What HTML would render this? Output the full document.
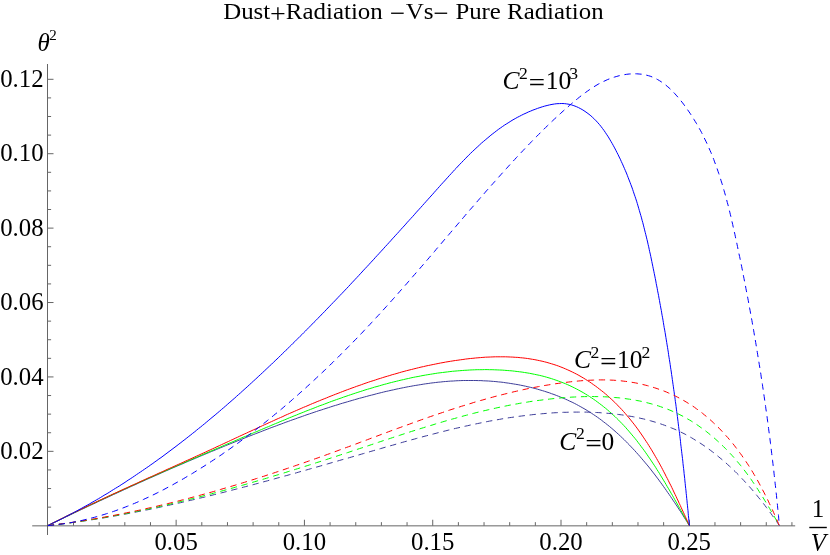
<!DOCTYPE html>
<html><head><meta charset="utf-8"><title>plot</title>
<style>
html,body{margin:0;padding:0;background:#fff;}
svg{display:block;will-change:transform}
text{font-family:"Liberation Serif",serif;fill:#000}
.t{font-size:25px}
.k{font-size:25.6px}
.h{font-size:24px}
.s{font-size:15px}
.l{font-size:25.5px}
.ls{font-size:17.6px}
.i{font-style:italic}
</style></head><body>
<svg width="830" height="555" viewBox="0 0 830 555">
<rect width="830" height="555" fill="#fff"/>
<path d="M32.2,525.85 H795.2 M47.5,535 V64" stroke="#666" stroke-width="1" fill="none"/>
<path d="M73.51,525.75 v-3.6 M99.17,525.75 v-3.6 M124.82,525.75 v-3.6 M150.48,525.75 v-3.6 M176.14,525.75 v-6 M201.80,525.75 v-3.6 M227.46,525.75 v-3.6 M253.11,525.75 v-3.6 M278.77,525.75 v-3.6 M304.43,525.75 v-6 M330.09,525.75 v-3.6 M355.75,525.75 v-3.6 M381.40,525.75 v-3.6 M407.06,525.75 v-3.6 M432.72,525.75 v-6 M458.38,525.75 v-3.6 M484.04,525.75 v-3.6 M509.69,525.75 v-3.6 M535.35,525.75 v-3.6 M561.01,525.75 v-6 M586.67,525.75 v-3.6 M612.33,525.75 v-3.6 M637.98,525.75 v-3.6 M663.64,525.75 v-3.6 M689.30,525.75 v-6 M714.96,525.75 v-3.6 M740.62,525.75 v-3.6 M766.27,525.75 v-3.6 M791.93,525.75 v-3.6 M47.5,507.15 h3.6 M47.5,488.55 h3.6 M47.5,469.94 h3.6 M47.5,451.34 h6 M47.5,432.74 h3.6 M47.5,414.14 h3.6 M47.5,395.54 h3.6 M47.5,376.93 h6 M47.5,358.33 h3.6 M47.5,339.73 h3.6 M47.5,321.13 h3.6 M47.5,302.52 h6 M47.5,283.92 h3.6 M47.5,265.32 h3.6 M47.5,246.72 h3.6 M47.5,228.12 h6 M47.5,209.51 h3.6 M47.5,190.91 h3.6 M47.5,172.31 h3.6 M47.5,153.71 h6 M47.5,135.11 h3.6 M47.5,116.50 h3.6 M47.5,97.90 h3.6 M47.5,79.30 h6" stroke="#666" stroke-width="1" fill="none"/>
<path d="M47.8,525.6 L50.0,524.5 L52.3,523.4 L54.5,522.3 L56.8,521.3 L59.0,520.2 L61.3,519.1 L63.6,518.0 L65.8,516.9 L68.1,515.9 L70.3,514.8 L72.6,513.7 L74.8,512.6 L77.1,511.6 L79.3,510.5 L81.6,509.4 L83.9,508.4 L86.1,507.3 L88.4,506.2 L90.6,505.2 L92.9,504.1 L95.2,503.1 L97.4,502.0 L99.7,500.9 L102.0,499.9 L104.2,498.8 L106.5,497.8 L108.8,496.7 L111.0,495.7 L113.3,494.6 L115.6,493.6 L117.9,492.5 L120.1,491.5 L122.4,490.5 L124.7,489.4 L127.0,488.4 L129.2,487.3 L131.5,486.3 L133.8,485.3 L136.1,484.3 L138.3,483.2 L140.6,482.2 L142.9,481.2 L145.2,480.1 L147.5,479.1 L149.7,478.1 L152.0,477.1 L154.3,476.1 L156.6,475.1 L158.9,474.1 L161.2,473.0 L163.5,472.0 L165.7,471.0 L168.0,470.0 L170.3,469.0 L172.6,468.0 L174.9,467.0 L177.2,466.0 L179.5,465.1 L181.8,464.1 L184.1,463.1 L186.4,462.1 L188.7,461.1 L191.0,460.1 L193.3,459.2 L195.6,458.2 L197.9,457.2 L200.2,456.2 L202.5,455.3 L204.8,454.3 L207.1,453.3 L209.4,452.4 L211.7,451.4 L214.0,450.5 L216.3,449.5 L218.6,448.6 L220.9,447.6 L223.2,446.7 L225.5,445.7 L227.8,444.8 L230.2,443.8 L232.5,442.9 L234.8,442.0 L237.1,441.0 L239.4,440.1 L241.7,439.2 L244.0,438.3 L246.4,437.3 L248.7,436.4 L251.0,435.5 L253.3,434.6 L255.6,433.7 L258.0,432.8 L260.3,431.9 L262.6,431.0 L264.9,430.1 L267.3,429.2 L269.6,428.3 L271.9,427.4 L274.2,426.6 L276.6,425.7 L278.9,424.8 L281.2,424.0 L283.6,423.1 L285.9,422.2 L288.3,421.4 L290.6,420.5 L292.9,419.7 L295.3,418.9 L297.6,418.0 L300.0,417.2 L302.3,416.4 L304.7,415.5 L307.0,414.7 L309.4,413.9 L311.8,413.1 L314.1,412.3 L316.5,411.5 L318.8,410.7 L321.2,410.0 L323.6,409.2 L326.0,408.4 L328.3,407.7 L330.7,406.9 L333.1,406.1 L335.5,405.4 L337.9,404.7 L340.2,403.9 L342.6,403.2 L345.0,402.5 L347.4,401.8 L349.8,401.1 L352.2,400.4 L354.6,399.7 L357.0,399.0 L359.4,398.3 L361.9,397.7 L364.3,397.0 L366.7,396.4 L369.1,395.7 L371.6,395.1 L374.0,394.5 L376.4,393.8 L378.9,393.2 L381.3,392.6 L383.7,392.0 L386.2,391.4 L388.6,390.9 L391.1,390.3 L393.6,389.8 L396.0,389.2 L398.5,388.7 L400.9,388.2 L403.4,387.7 L405.9,387.2 L408.4,386.7 L410.8,386.3 L413.3,385.8 L415.8,385.4 L418.3,385.0 L420.8,384.6 L423.2,384.2 L425.7,383.8 L428.2,383.5 L430.7,383.1 L433.2,382.8 L435.7,382.5 L438.2,382.2 L440.7,382.0 L443.2,381.7 L445.7,381.5 L448.2,381.3 L450.7,381.1 L453.3,381.0 L455.8,380.8 L458.3,380.7 L460.8,380.6 L463.3,380.5 L465.8,380.5 L468.3,380.5 L470.9,380.5 L473.4,380.5 L475.9,380.5 L478.4,380.6 L480.9,380.6 L483.4,380.8 L485.9,380.9 L488.4,381.0 L490.9,381.2 L493.4,381.4 L495.9,381.6 L498.4,381.9 L500.9,382.1 L503.4,382.4 L505.9,382.8 L508.3,383.1 L510.8,383.5 L513.3,383.9 L515.7,384.3 L518.2,384.7 L520.6,385.2 L523.1,385.7 L525.5,386.2 L527.9,386.8 L530.3,387.3 L532.7,387.9 L535.1,388.5 L537.5,389.2 L539.9,389.9 L542.3,390.6 L544.6,391.3 L547.0,392.1 L549.3,392.8 L551.6,393.7 L554.0,394.5 L556.3,395.4 L558.6,396.3 L560.8,397.2 L563.1,398.1 L565.4,399.1 L567.6,400.1 L569.8,401.2 L572.1,402.2 L574.3,403.3 L576.4,404.4 L578.6,405.6 L580.8,406.8 L582.9,408.0 L585.0,409.2 L587.2,410.5 L589.2,411.8 L591.3,413.1 L593.4,414.5 L595.4,415.8 L597.5,417.3 L599.5,418.7 L601.5,420.2 L603.4,421.7 L605.4,423.2 L607.3,424.7 L609.3,426.3 L611.2,427.9 L613.1,429.5 L615.0,431.2 L616.8,432.8 L618.7,434.5 L620.5,436.2 L622.4,438.0 L624.2,439.7 L626.0,441.5 L627.7,443.3 L629.5,445.1 L631.2,446.9 L633.0,448.8 L634.7,450.6 L636.4,452.5 L638.1,454.4 L639.8,456.3 L641.4,458.2 L643.1,460.2 L644.7,462.1 L646.4,464.1 L648.0,466.0 L649.6,468.0 L651.2,470.0 L652.7,472.0 L654.3,474.0 L655.8,476.0 L657.4,478.1 L658.9,480.1 L660.4,482.2 L661.9,484.2 L663.4,486.3 L664.8,488.3 L666.3,490.4 L667.7,492.5 L669.2,494.5 L670.6,496.6 L672.0,498.7 L673.4,500.8 L674.8,502.8 L676.2,504.9 L677.6,507.0 L678.9,509.1 L680.3,511.2 L681.6,513.2 L682.9,515.3 L684.2,517.4 L685.5,519.4 L686.8,521.5 L688.1,523.6 L689.4,525.6" stroke="#3d3d99" stroke-width="1.0" fill="none"/>
<path d="M47.8,525.6 L50.1,524.5 L52.3,523.3 L54.6,522.2 L56.8,521.1 L59.1,520.0 L61.3,518.9 L63.6,517.8 L65.8,516.6 L68.1,515.5 L70.4,514.4 L72.6,513.4 L74.9,512.3 L77.1,511.2 L79.4,510.1 L81.6,509.0 L83.9,507.9 L86.2,506.9 L88.4,505.8 L90.7,504.7 L92.9,503.6 L95.2,502.6 L97.4,501.5 L99.7,500.5 L101.9,499.4 L104.2,498.4 L106.5,497.3 L108.7,496.3 L111.0,495.2 L113.2,494.2 L115.5,493.1 L117.8,492.1 L120.0,491.1 L122.3,490.0 L124.5,489.0 L126.8,488.0 L129.1,487.0 L131.3,485.9 L133.6,484.9 L135.8,483.9 L138.1,482.9 L140.4,481.9 L142.6,480.8 L144.9,479.8 L147.2,478.8 L149.4,477.8 L151.7,476.8 L154.0,475.8 L156.2,474.8 L158.5,473.8 L160.8,472.8 L163.0,471.8 L165.3,470.8 L167.6,469.8 L169.8,468.8 L172.1,467.8 L174.4,466.8 L176.7,465.8 L178.9,464.8 L181.2,463.9 L183.5,462.9 L185.8,461.9 L188.0,460.9 L190.3,459.9 L192.6,458.9 L194.9,457.9 L197.2,457.0 L199.5,456.0 L201.7,455.0 L204.0,454.0 L206.3,453.0 L208.6,452.1 L210.9,451.1 L213.2,450.1 L215.5,449.1 L217.8,448.1 L220.1,447.2 L222.3,446.2 L224.6,445.2 L226.9,444.2 L229.2,443.2 L231.5,442.3 L233.8,441.3 L236.1,440.3 L238.4,439.3 L240.7,438.3 L243.0,437.3 L245.4,436.4 L247.7,435.4 L250.0,434.4 L252.3,433.4 L254.6,432.4 L256.9,431.5 L259.2,430.5 L261.5,429.5 L263.9,428.5 L266.2,427.5 L268.5,426.6 L270.8,425.6 L273.1,424.6 L275.5,423.6 L277.8,422.7 L280.1,421.7 L282.4,420.7 L284.8,419.8 L287.1,418.8 L289.4,417.8 L291.8,416.9 L294.1,415.9 L296.5,415.0 L298.8,414.0 L301.1,413.1 L303.5,412.2 L305.8,411.2 L308.2,410.3 L310.5,409.4 L312.9,408.5 L315.2,407.6 L317.6,406.6 L319.9,405.7 L322.3,404.9 L324.7,404.0 L327.0,403.1 L329.4,402.2 L331.7,401.3 L334.1,400.5 L336.5,399.6 L338.8,398.8 L341.2,398.0 L343.6,397.1 L346.0,396.3 L348.3,395.5 L350.7,394.7 L353.1,393.9 L355.5,393.1 L357.9,392.3 L360.2,391.6 L362.6,390.8 L365.0,390.0 L367.4,389.3 L369.8,388.6 L372.2,387.9 L374.6,387.1 L377.0,386.5 L379.4,385.8 L381.8,385.1 L384.2,384.4 L386.6,383.8 L389.0,383.1 L391.4,382.5 L393.8,381.9 L396.3,381.3 L398.7,380.7 L401.1,380.1 L403.5,379.6 L405.9,379.0 L408.4,378.5 L410.8,377.9 L413.2,377.4 L415.7,376.9 L418.1,376.5 L420.5,376.0 L423.0,375.5 L425.4,375.1 L427.8,374.7 L430.3,374.3 L432.7,373.9 L435.2,373.5 L437.6,373.1 L440.1,372.8 L442.5,372.5 L445.0,372.2 L447.5,371.9 L449.9,371.6 L452.4,371.3 L454.9,371.1 L457.3,370.9 L459.8,370.7 L462.3,370.5 L464.8,370.3 L467.2,370.2 L469.7,370.0 L472.2,369.9 L474.7,369.8 L477.2,369.7 L479.7,369.7 L482.2,369.7 L484.6,369.6 L487.1,369.6 L489.6,369.7 L492.1,369.7 L494.7,369.8 L497.2,369.9 L499.7,370.0 L502.2,370.1 L504.7,370.3 L507.2,370.5 L509.7,370.7 L512.2,370.9 L514.7,371.2 L517.2,371.5 L519.7,371.8 L522.1,372.1 L524.6,372.5 L527.1,372.9 L529.6,373.3 L532.0,373.8 L534.5,374.3 L536.9,374.8 L539.3,375.3 L541.8,375.9 L544.2,376.5 L546.6,377.2 L549.0,377.9 L551.4,378.6 L553.7,379.4 L556.1,380.2 L558.4,381.0 L560.8,381.9 L563.1,382.8 L565.4,383.7 L567.7,384.7 L569.9,385.7 L572.2,386.8 L574.4,387.9 L576.6,389.0 L578.8,390.2 L581.0,391.4 L583.2,392.6 L585.3,393.9 L587.4,395.2 L589.5,396.5 L591.6,397.9 L593.7,399.3 L595.7,400.7 L597.7,402.2 L599.7,403.7 L601.7,405.2 L603.7,406.8 L605.6,408.3 L607.5,409.9 L609.4,411.6 L611.3,413.2 L613.1,414.9 L615.0,416.6 L616.8,418.4 L618.6,420.1 L620.3,421.9 L622.1,423.7 L623.8,425.5 L625.5,427.3 L627.1,429.2 L628.8,431.1 L630.4,433.0 L632.0,434.9 L633.6,436.8 L635.2,438.7 L636.8,440.7 L638.3,442.7 L639.8,444.7 L641.3,446.7 L642.8,448.7 L644.3,450.7 L645.8,452.8 L647.2,454.8 L648.6,456.9 L650.0,458.9 L651.4,461.0 L652.8,463.1 L654.2,465.2 L655.6,467.3 L656.9,469.5 L658.3,471.6 L659.6,473.7 L660.9,475.9 L662.2,478.0 L663.5,480.2 L664.8,482.3 L666.1,484.5 L667.3,486.7 L668.6,488.8 L669.9,491.0 L671.1,493.2 L672.4,495.3 L673.6,497.5 L674.8,499.7 L676.1,501.9 L677.3,504.0 L678.5,506.2 L679.7,508.4 L680.9,510.5 L682.2,512.7 L683.4,514.9 L684.6,517.0 L685.8,519.2 L687.0,521.3 L688.2,523.5 L689.4,525.6" stroke="#00ff00" stroke-width="1.0" fill="none"/>
<path d="M47.8,525.6 L50.0,524.5 L52.3,523.3 L54.5,522.2 L56.7,521.1 L59.0,520.0 L61.2,518.8 L63.5,517.7 L65.7,516.6 L67.9,515.5 L70.2,514.4 L72.4,513.3 L74.7,512.2 L76.9,511.2 L79.2,510.1 L81.4,509.0 L83.7,507.9 L85.9,506.8 L88.1,505.8 L90.4,504.7 L92.6,503.6 L94.9,502.6 L97.2,501.5 L99.4,500.4 L101.7,499.4 L103.9,498.3 L106.2,497.3 L108.4,496.2 L110.7,495.2 L112.9,494.1 L115.2,493.1 L117.4,492.1 L119.7,491.0 L122.0,490.0 L124.2,488.9 L126.5,487.9 L128.7,486.9 L131.0,485.8 L133.3,484.8 L135.5,483.8 L137.8,482.8 L140.0,481.7 L142.3,480.7 L144.6,479.7 L146.8,478.6 L149.1,477.6 L151.4,476.6 L153.6,475.6 L155.9,474.6 L158.1,473.5 L160.4,472.5 L162.7,471.5 L164.9,470.5 L167.2,469.4 L169.5,468.4 L171.7,467.4 L174.0,466.4 L176.3,465.3 L178.5,464.3 L180.8,463.3 L183.1,462.3 L185.3,461.2 L187.6,460.2 L189.9,459.2 L192.1,458.2 L194.4,457.1 L196.6,456.1 L198.9,455.1 L201.2,454.0 L203.4,453.0 L205.7,452.0 L208.0,450.9 L210.2,449.9 L212.5,448.8 L214.8,447.8 L217.0,446.7 L219.3,445.7 L221.6,444.6 L223.8,443.6 L226.1,442.5 L228.4,441.5 L230.6,440.4 L232.9,439.4 L235.1,438.3 L237.4,437.3 L239.7,436.2 L241.9,435.2 L244.2,434.1 L246.5,433.1 L248.7,432.0 L251.0,431.0 L253.3,429.9 L255.6,428.9 L257.8,427.8 L260.1,426.8 L262.4,425.7 L264.6,424.7 L266.9,423.7 L269.2,422.6 L271.5,421.6 L273.7,420.6 L276.0,419.5 L278.3,418.5 L280.6,417.5 L282.9,416.5 L285.1,415.4 L287.4,414.4 L289.7,413.4 L292.0,412.4 L294.3,411.4 L296.6,410.4 L298.9,409.4 L301.2,408.4 L303.4,407.4 L305.7,406.5 L308.0,405.5 L310.3,404.5 L312.6,403.5 L314.9,402.6 L317.2,401.6 L319.5,400.7 L321.9,399.7 L324.2,398.8 L326.5,397.9 L328.8,396.9 L331.1,396.0 L333.4,395.1 L335.7,394.2 L338.1,393.3 L340.4,392.4 L342.7,391.5 L345.0,390.6 L347.4,389.7 L349.7,388.9 L352.0,388.0 L354.4,387.2 L356.7,386.3 L359.1,385.5 L361.4,384.7 L363.8,383.8 L366.1,383.0 L368.5,382.2 L370.8,381.4 L373.2,380.7 L375.6,379.9 L377.9,379.1 L380.3,378.4 L382.7,377.6 L385.0,376.9 L387.4,376.2 L389.8,375.5 L392.2,374.7 L394.6,374.1 L397.0,373.4 L399.3,372.7 L401.7,372.0 L404.1,371.4 L406.5,370.7 L409.0,370.1 L411.4,369.5 L413.8,368.9 L416.2,368.3 L418.6,367.7 L421.0,367.1 L423.5,366.6 L425.9,366.0 L428.3,365.5 L430.8,365.0 L433.2,364.5 L435.7,364.0 L438.1,363.5 L440.6,363.0 L443.0,362.6 L445.5,362.1 L448.0,361.7 L450.4,361.3 L452.9,360.9 L455.4,360.5 L457.9,360.2 L460.4,359.8 L462.9,359.5 L465.4,359.1 L467.9,358.8 L470.4,358.5 L472.9,358.3 L475.4,358.0 L477.9,357.8 L480.4,357.6 L482.9,357.4 L485.4,357.2 L487.9,357.1 L490.4,357.0 L492.9,356.9 L495.4,356.8 L497.9,356.8 L500.4,356.8 L502.9,356.8 L505.4,356.8 L507.9,356.9 L510.4,357.0 L512.8,357.1 L515.3,357.3 L517.8,357.4 L520.3,357.7 L522.7,357.9 L525.2,358.2 L527.6,358.5 L530.0,358.9 L532.5,359.3 L534.9,359.7 L537.3,360.2 L539.7,360.7 L542.1,361.2 L544.5,361.8 L546.9,362.4 L549.2,363.1 L551.6,363.8 L553.9,364.5 L556.3,365.3 L558.6,366.1 L560.9,367.0 L563.2,367.9 L565.5,368.9 L567.8,369.9 L570.0,370.9 L572.3,372.0 L574.5,373.1 L576.7,374.2 L578.9,375.4 L581.1,376.7 L583.2,377.9 L585.3,379.2 L587.5,380.6 L589.6,381.9 L591.6,383.3 L593.7,384.8 L595.7,386.2 L597.7,387.7 L599.7,389.3 L601.7,390.8 L603.7,392.4 L605.6,394.0 L607.5,395.6 L609.3,397.3 L611.2,399.0 L613.0,400.7 L614.8,402.4 L616.6,404.2 L618.3,406.0 L620.1,407.8 L621.8,409.6 L623.4,411.4 L625.1,413.3 L626.7,415.2 L628.3,417.1 L629.9,419.0 L631.5,421.0 L633.0,422.9 L634.6,424.9 L636.1,426.9 L637.6,428.9 L639.0,430.9 L640.5,433.0 L641.9,435.0 L643.3,437.1 L644.7,439.2 L646.1,441.3 L647.5,443.4 L648.8,445.5 L650.2,447.7 L651.5,449.8 L652.8,452.0 L654.1,454.2 L655.3,456.3 L656.6,458.5 L657.8,460.7 L659.1,462.9 L660.3,465.1 L661.5,467.3 L662.7,469.6 L663.8,471.8 L665.0,474.0 L666.1,476.3 L667.3,478.5 L668.4,480.7 L669.5,483.0 L670.7,485.2 L671.8,487.5 L672.9,489.8 L673.9,492.0 L675.0,494.3 L676.1,496.5 L677.1,498.8 L678.2,501.0 L679.2,503.3 L680.3,505.5 L681.3,507.8 L682.3,510.0 L683.4,512.3 L684.4,514.5 L685.4,516.7 L686.4,519.0 L687.4,521.2 L688.4,523.4 L689.4,525.6" stroke="#ff0000" stroke-width="1.0" fill="none"/>
<path d="M47.8,525.6 L50.1,524.5 L52.3,523.4 L54.6,522.3 L56.8,521.2 L59.0,520.1 L61.3,519.0 L63.5,517.9 L65.7,516.7 L67.9,515.6 L70.2,514.4 L72.4,513.3 L74.6,512.1 L76.8,510.9 L79.0,509.7 L81.2,508.5 L83.3,507.3 L85.5,506.1 L87.7,504.9 L89.9,503.7 L92.0,502.4 L94.2,501.2 L96.4,499.9 L98.5,498.7 L100.7,497.4 L102.8,496.1 L104.9,494.8 L107.1,493.6 L109.2,492.3 L111.3,490.9 L113.4,489.6 L115.5,488.3 L117.7,487.0 L119.8,485.7 L121.9,484.3 L124.0,483.0 L126.1,481.6 L128.1,480.2 L130.2,478.9 L132.3,477.5 L134.4,476.1 L136.4,474.7 L138.5,473.3 L140.6,471.9 L142.6,470.5 L144.7,469.1 L146.7,467.7 L148.8,466.3 L150.8,464.8 L152.9,463.4 L154.9,461.9 L156.9,460.5 L158.9,459.0 L161.0,457.6 L163.0,456.1 L165.0,454.6 L167.0,453.1 L169.0,451.6 L171.0,450.1 L173.0,448.6 L175.0,447.1 L177.0,445.6 L178.9,444.1 L180.9,442.6 L182.9,441.0 L184.9,439.5 L186.8,438.0 L188.8,436.4 L190.8,434.9 L192.7,433.3 L194.7,431.8 L196.6,430.2 L198.5,428.6 L200.5,427.1 L202.4,425.5 L204.4,423.9 L206.3,422.3 L208.2,420.7 L210.1,419.1 L212.0,417.5 L214.0,415.9 L215.9,414.3 L217.8,412.7 L219.7,411.1 L221.6,409.4 L223.5,407.8 L225.4,406.2 L227.3,404.5 L229.1,402.9 L231.0,401.3 L232.9,399.6 L234.8,398.0 L236.6,396.3 L238.5,394.6 L240.4,393.0 L242.2,391.3 L244.1,389.6 L245.9,388.0 L247.8,386.3 L249.6,384.6 L251.5,382.9 L253.3,381.2 L255.2,379.5 L257.0,377.8 L258.8,376.1 L260.7,374.4 L262.5,372.7 L264.3,371.0 L266.1,369.3 L267.9,367.6 L269.7,365.9 L271.6,364.2 L273.4,362.4 L275.2,360.7 L277.0,359.0 L278.8,357.3 L280.6,355.5 L282.3,353.8 L284.1,352.1 L285.9,350.3 L287.7,348.6 L289.5,346.8 L291.3,345.1 L293.0,343.3 L294.8,341.6 L296.6,339.8 L298.3,338.1 L300.1,336.3 L301.9,334.6 L303.6,332.8 L305.4,331.1 L307.1,329.3 L308.9,327.5 L310.6,325.8 L312.3,324.0 L314.1,322.2 L315.8,320.5 L317.6,318.7 L319.3,316.9 L321.0,315.1 L322.8,313.4 L324.5,311.6 L326.2,309.8 L327.9,308.0 L329.7,306.2 L331.4,304.4 L333.1,302.6 L334.8,300.9 L336.5,299.1 L338.2,297.3 L339.9,295.5 L341.7,293.7 L343.4,291.9 L345.1,290.1 L346.8,288.3 L348.5,286.5 L350.2,284.7 L351.9,282.8 L353.6,281.0 L355.3,279.2 L357.0,277.4 L358.7,275.6 L360.3,273.8 L362.0,272.0 L363.7,270.1 L365.4,268.3 L367.1,266.5 L368.8,264.7 L370.5,262.8 L372.2,261.0 L373.9,259.2 L375.5,257.3 L377.2,255.5 L378.9,253.7 L380.6,251.8 L382.3,250.0 L383.9,248.2 L385.6,246.3 L387.3,244.5 L389.0,242.6 L390.7,240.8 L392.3,238.9 L394.0,237.1 L395.7,235.2 L397.4,233.4 L399.1,231.5 L400.7,229.7 L402.4,227.8 L404.1,226.0 L405.8,224.1 L407.4,222.2 L409.1,220.4 L410.8,218.5 L412.5,216.7 L414.2,214.8 L415.8,212.9 L417.5,211.0 L419.2,209.2 L420.9,207.3 L422.6,205.4 L424.2,203.6 L425.9,201.7 L427.6,199.8 L429.3,197.9 L431.0,196.0 L432.7,194.2 L434.3,192.3 L436.0,190.4 L437.7,188.5 L439.4,186.6 L441.1,184.7 L442.8,182.8 L444.5,181.0 L446.2,179.1 L447.9,177.2 L449.6,175.3 L451.3,173.5 L453.0,171.6 L454.7,169.7 L456.5,167.9 L458.2,166.0 L459.9,164.2 L461.7,162.4 L463.4,160.6 L465.2,158.8 L466.9,157.0 L468.7,155.2 L470.5,153.4 L472.3,151.7 L474.1,150.0 L475.9,148.3 L477.8,146.6 L479.6,144.9 L481.4,143.2 L483.3,141.6 L485.2,140.0 L487.1,138.4 L489.0,136.8 L490.9,135.2 L492.8,133.7 L494.8,132.2 L496.7,130.7 L498.7,129.2 L500.7,127.8 L502.7,126.4 L504.7,125.0 L506.8,123.7 L508.9,122.4 L510.9,121.1 L513.0,119.8 L515.2,118.6 L517.3,117.4 L519.5,116.3 L521.6,115.2 L523.8,114.1 L526.1,113.1 L528.3,112.0 L530.6,111.1 L532.9,110.1 L535.2,109.3 L537.5,108.4 L539.9,107.6 L542.3,106.8 L544.7,106.1 L547.1,105.5 L549.5,104.9 L552.0,104.4 L554.4,104.0 L556.9,103.7 L559.4,103.6 L561.8,103.5 L564.3,103.6 L566.7,103.9 L569.1,104.3 L571.5,104.9 L573.9,105.7 L576.3,106.6 L578.5,107.6 L580.8,108.8 L582.9,110.0 L585.0,111.4 L587.0,112.8 L589.0,114.3 L590.9,115.8 L592.7,117.5 L594.5,119.2 L596.2,120.9 L597.9,122.8 L599.5,124.6 L601.1,126.6 L602.6,128.6 L604.1,130.6 L605.5,132.7 L606.9,134.8 L608.3,136.9 L609.6,139.1 L610.9,141.3 L612.2,143.5 L613.4,145.7 L614.6,147.9 L615.8,150.2 L616.9,152.4 L618.1,154.7 L619.2,157.0 L620.3,159.2 L621.3,161.5 L622.4,163.8 L623.4,166.1 L624.4,168.4 L625.4,170.7 L626.4,173.0 L627.3,175.3 L628.2,177.7 L629.1,180.0 L630.0,182.3 L630.9,184.7 L631.8,187.0 L632.6,189.3 L633.4,191.7 L634.2,194.1 L635.0,196.4 L635.8,198.8 L636.6,201.2 L637.3,203.5 L638.0,205.9 L638.7,208.3 L639.4,210.7 L640.1,213.1 L640.8,215.5 L641.5,217.9 L642.1,220.3 L642.8,222.7 L643.4,225.1 L644.0,227.5 L644.6,229.9 L645.2,232.3 L645.8,234.7 L646.4,237.1 L647.0,239.6 L647.6,242.0 L648.1,244.4 L648.7,246.8 L649.2,249.3 L649.7,251.7 L650.3,254.1 L650.8,256.6 L651.3,259.0 L651.8,261.5 L652.3,263.9 L652.8,266.3 L653.3,268.8 L653.8,271.2 L654.3,273.7 L654.8,276.1 L655.3,278.6 L655.8,281.0 L656.2,283.5 L656.7,285.9 L657.2,288.3 L657.6,290.8 L658.1,293.2 L658.6,295.7 L659.0,298.2 L659.5,300.6 L659.9,303.1 L660.4,305.5 L660.8,308.0 L661.3,310.4 L661.7,312.9 L662.1,315.3 L662.6,317.8 L663.0,320.2 L663.4,322.7 L663.8,325.2 L664.2,327.6 L664.7,330.1 L665.1,332.5 L665.5,335.0 L665.9,337.5 L666.3,339.9 L666.7,342.4 L667.1,344.9 L667.5,347.3 L667.9,349.8 L668.3,352.2 L668.6,354.7 L669.0,357.2 L669.4,359.6 L669.8,362.1 L670.2,364.6 L670.5,367.1 L670.9,369.5 L671.3,372.0 L671.6,374.5 L672.0,376.9 L672.3,379.4 L672.7,381.9 L673.0,384.3 L673.4,386.8 L673.7,389.3 L674.1,391.8 L674.4,394.2 L674.8,396.7 L675.1,399.2 L675.4,401.7 L675.8,404.1 L676.1,406.6 L676.4,409.1 L676.7,411.5 L677.1,414.0 L677.4,416.5 L677.7,419.0 L678.0,421.5 L678.3,423.9 L678.6,426.4 L678.9,428.9 L679.3,431.4 L679.6,433.8 L679.9,436.3 L680.2,438.8 L680.5,441.3 L680.7,443.8 L681.0,446.2 L681.3,448.7 L681.6,451.2 L681.9,453.7 L682.2,456.1 L682.5,458.6 L682.8,461.1 L683.0,463.6 L683.3,466.1 L683.6,468.5 L683.9,471.0 L684.1,473.5 L684.4,476.0 L684.7,478.5 L684.9,480.9 L685.2,483.4 L685.4,485.9 L685.7,488.4 L686.0,490.9 L686.2,493.4 L686.5,495.8 L686.7,498.3 L687.0,500.8 L687.2,503.3 L687.5,505.8 L687.7,508.2 L688.0,510.7 L688.2,513.2 L688.4,515.7 L688.7,518.2 L688.9,520.6 L689.2,523.1 L689.4,525.6" stroke="#0000ff" stroke-width="1.0" fill="none"/>
<path d="M47.8,525.6 L50.3,525.3 L52.8,525.0 L55.3,524.7 L57.8,524.5 L60.2,524.1 L62.7,523.8 L65.2,523.5 L67.7,523.2 L70.2,522.9 L72.7,522.5 L75.1,522.2 L77.6,521.9 L80.1,521.5 L82.6,521.1 L85.0,520.8 L87.5,520.4 L90.0,520.0 L92.4,519.7 L94.9,519.3 L97.4,518.9 L99.8,518.5 L102.3,518.1 L104.8,517.7 L107.2,517.3 L109.7,516.8 L112.1,516.4 L114.6,516.0 L117.1,515.6 L119.5,515.1 L122.0,514.7 L124.4,514.2 L126.9,513.8 L129.3,513.3 L131.8,512.9 L134.2,512.4 L136.7,511.9 L139.1,511.4 L141.5,511.0 L144.0,510.5 L146.4,510.0 L148.9,509.5 L151.3,509.0 L153.7,508.5 L156.2,508.0 L158.6,507.5 L161.1,506.9 L163.5,506.4 L165.9,505.9 L168.4,505.4 L170.8,504.8 L173.2,504.3 L175.7,503.8 L178.1,503.2 L180.5,502.7 L182.9,502.1 L185.4,501.6 L187.8,501.0 L190.2,500.4 L192.6,499.9 L195.1,499.3 L197.5,498.7 L199.9,498.1 L202.3,497.6 L204.8,497.0 L207.2,496.4 L209.6,495.8 L212.0,495.2 L214.4,494.6 L216.9,494.0 L219.3,493.4 L221.7,492.8 L224.1,492.2 L226.5,491.6 L228.9,491.0 L231.3,490.3 L233.8,489.7 L236.2,489.1 L238.6,488.5 L241.0,487.8 L243.4,487.2 L245.8,486.6 L248.2,485.9 L250.6,485.3 L253.1,484.7 L255.5,484.0 L257.9,483.4 L260.3,482.7 L262.7,482.1 L265.1,481.4 L267.5,480.8 L269.9,480.1 L272.3,479.5 L274.7,478.8 L277.1,478.1 L279.5,477.5 L281.9,476.8 L284.4,476.1 L286.8,475.5 L289.2,474.8 L291.6,474.1 L294.0,473.5 L296.4,472.8 L298.8,472.1 L301.2,471.4 L303.6,470.8 L306.0,470.1 L308.4,469.4 L310.8,468.7 L313.2,468.0 L315.6,467.3 L318.0,466.7 L320.4,466.0 L322.8,465.3 L325.2,464.6 L327.6,463.9 L330.0,463.2 L332.4,462.5 L334.8,461.8 L337.3,461.1 L339.7,460.4 L342.1,459.7 L344.5,459.1 L346.9,458.4 L349.3,457.7 L351.7,457.0 L354.1,456.3 L356.5,455.6 L358.9,454.9 L361.3,454.2 L363.7,453.5 L366.1,452.8 L368.5,452.1 L370.9,451.4 L373.3,450.7 L375.7,450.0 L378.2,449.3 L380.6,448.6 L383.0,447.9 L385.4,447.2 L387.8,446.5 L390.2,445.8 L392.6,445.2 L395.0,444.5 L397.4,443.8 L399.8,443.1 L402.3,442.4 L404.7,441.7 L407.1,441.1 L409.5,440.4 L411.9,439.7 L414.3,439.1 L416.7,438.4 L419.2,437.7 L421.6,437.1 L424.0,436.4 L426.4,435.8 L428.8,435.2 L431.3,434.5 L433.7,433.9 L436.1,433.3 L438.5,432.6 L440.9,432.0 L443.4,431.4 L445.8,430.8 L448.2,430.2 L450.6,429.6 L453.1,429.0 L455.5,428.4 L457.9,427.9 L460.4,427.3 L462.8,426.7 L465.2,426.2 L467.7,425.7 L470.1,425.1 L472.5,424.6 L475.0,424.1 L477.4,423.6 L479.9,423.1 L482.3,422.6 L484.7,422.1 L487.2,421.6 L489.6,421.1 L492.1,420.7 L494.5,420.2 L497.0,419.8 L499.4,419.4 L501.9,418.9 L504.3,418.5 L506.8,418.1 L509.2,417.7 L511.7,417.4 L514.2,417.0 L516.6,416.6 L519.1,416.3 L521.6,416.0 L524.0,415.7 L526.5,415.4 L529.0,415.1 L531.4,414.8 L533.9,414.5 L536.4,414.3 L538.9,414.0 L541.3,413.8 L543.8,413.6 L546.3,413.4 L548.8,413.2 L551.3,413.0 L553.7,412.8 L556.2,412.7 L558.7,412.6 L561.2,412.4 L563.7,412.3 L566.2,412.3 L568.7,412.2 L571.2,412.1 L573.7,412.1 L576.2,412.1 L578.7,412.1 L581.2,412.1 L583.7,412.1 L586.3,412.1 L588.8,412.2 L591.3,412.3 L593.8,412.4 L596.3,412.5 L598.8,412.6 L601.3,412.8 L603.8,413.0 L606.3,413.2 L608.8,413.4 L611.3,413.6 L613.8,413.9 L616.3,414.2 L618.8,414.5 L621.3,414.8 L623.8,415.2 L626.2,415.5 L628.7,416.0 L631.2,416.4 L633.6,416.8 L636.1,417.3 L638.5,417.8 L640.9,418.4 L643.4,418.9 L645.8,419.5 L648.2,420.1 L650.6,420.8 L653.0,421.5 L655.3,422.2 L657.7,422.9 L660.1,423.7 L662.4,424.5 L664.7,425.3 L667.0,426.2 L669.3,427.1 L671.6,428.0 L673.9,428.9 L676.2,429.9 L678.4,431.0 L680.6,432.0 L682.9,433.1 L685.1,434.2 L687.2,435.4 L689.4,436.6 L691.6,437.8 L693.7,439.1 L695.8,440.4 L697.9,441.7 L700.0,443.0 L702.1,444.4 L704.2,445.8 L706.2,447.2 L708.3,448.7 L710.3,450.2 L712.3,451.7 L714.3,453.2 L716.2,454.8 L718.2,456.4 L720.1,458.0 L722.1,459.6 L724.0,461.2 L725.9,462.9 L727.7,464.6 L729.6,466.3 L731.5,468.0 L733.3,469.8 L735.1,471.5 L736.9,473.3 L738.7,475.1 L740.4,476.9 L742.2,478.8 L743.9,480.6 L745.6,482.5 L747.4,484.3 L749.0,486.2 L750.7,488.1 L752.4,490.0 L754.0,491.9 L755.6,493.9 L757.2,495.8 L758.8,497.8 L760.4,499.7 L762.0,501.7 L763.5,503.6 L765.0,505.6 L766.5,507.6 L768.0,509.6 L769.5,511.6 L771.0,513.6 L772.4,515.6 L773.8,517.6 L775.3,519.6 L776.7,521.6 L778.0,523.6 L779.4,525.6" stroke="#3d3d99" stroke-width="1.0" fill="none" stroke-dasharray="6.3 4.7"/>
<path d="M47.8,525.6 L50.3,525.3 L52.8,525.0 L55.2,524.7 L57.7,524.4 L60.2,524.1 L62.7,523.8 L65.1,523.5 L67.6,523.1 L70.1,522.8 L72.6,522.5 L75.0,522.1 L77.5,521.8 L80.0,521.4 L82.4,521.0 L84.9,520.7 L87.3,520.3 L89.8,519.9 L92.3,519.5 L94.7,519.1 L97.2,518.7 L99.6,518.3 L102.1,517.9 L104.6,517.4 L107.0,517.0 L109.5,516.6 L111.9,516.1 L114.4,515.7 L116.8,515.2 L119.3,514.8 L121.7,514.3 L124.1,513.9 L126.6,513.4 L129.0,512.9 L131.5,512.4 L133.9,511.9 L136.3,511.4 L138.8,510.9 L141.2,510.4 L143.7,509.9 L146.1,509.4 L148.5,508.9 L151.0,508.4 L153.4,507.8 L155.8,507.3 L158.3,506.8 L160.7,506.2 L163.1,505.7 L165.5,505.1 L168.0,504.6 L170.4,504.0 L172.8,503.4 L175.2,502.9 L177.7,502.3 L180.1,501.7 L182.5,501.1 L184.9,500.5 L187.3,499.9 L189.8,499.3 L192.2,498.7 L194.6,498.1 L197.0,497.5 L199.4,496.9 L201.8,496.3 L204.2,495.6 L206.7,495.0 L209.1,494.4 L211.5,493.8 L213.9,493.1 L216.3,492.5 L218.7,491.8 L221.1,491.2 L223.5,490.5 L225.9,489.9 L228.3,489.2 L230.7,488.5 L233.1,487.9 L235.5,487.2 L237.9,486.5 L240.3,485.8 L242.7,485.2 L245.1,484.5 L247.5,483.8 L249.9,483.1 L252.3,482.4 L254.7,481.7 L257.1,481.0 L259.5,480.3 L261.9,479.6 L264.3,478.9 L266.7,478.2 L269.1,477.5 L271.4,476.7 L273.8,476.0 L276.2,475.3 L278.6,474.6 L281.0,473.8 L283.4,473.1 L285.8,472.4 L288.2,471.6 L290.5,470.9 L292.9,470.2 L295.3,469.4 L297.7,468.7 L300.1,467.9 L302.5,467.2 L304.8,466.4 L307.2,465.7 L309.6,464.9 L312.0,464.2 L314.4,463.4 L316.7,462.6 L319.1,461.9 L321.5,461.1 L323.9,460.3 L326.2,459.6 L328.6,458.8 L331.0,458.0 L333.4,457.3 L335.7,456.5 L338.1,455.7 L340.5,454.9 L342.9,454.1 L345.2,453.4 L347.6,452.6 L350.0,451.8 L352.3,451.0 L354.7,450.2 L357.1,449.4 L359.5,448.6 L361.8,447.9 L364.2,447.1 L366.6,446.3 L368.9,445.5 L371.3,444.7 L373.7,443.9 L376.0,443.1 L378.4,442.3 L380.8,441.5 L383.2,440.7 L385.5,440.0 L387.9,439.2 L390.3,438.4 L392.6,437.6 L395.0,436.8 L397.4,436.1 L399.7,435.3 L402.1,434.5 L404.5,433.7 L406.9,433.0 L409.2,432.2 L411.6,431.4 L414.0,430.7 L416.4,429.9 L418.7,429.2 L421.1,428.4 L423.5,427.7 L425.9,426.9 L428.2,426.2 L430.6,425.5 L433.0,424.8 L435.4,424.0 L437.8,423.3 L440.2,422.6 L442.5,421.9 L444.9,421.2 L447.3,420.5 L449.7,419.8 L452.1,419.1 L454.5,418.5 L456.9,417.8 L459.3,417.1 L461.7,416.5 L464.1,415.8 L466.5,415.2 L468.9,414.6 L471.3,413.9 L473.7,413.3 L476.1,412.7 L478.5,412.1 L480.9,411.5 L483.3,410.9 L485.8,410.4 L488.2,409.8 L490.6,409.2 L493.0,408.7 L495.4,408.2 L497.9,407.6 L500.3,407.1 L502.7,406.6 L505.2,406.1 L507.6,405.6 L510.0,405.1 L512.5,404.7 L514.9,404.2 L517.4,403.8 L519.8,403.3 L522.3,402.9 L524.7,402.5 L527.2,402.1 L529.6,401.7 L532.1,401.3 L534.6,401.0 L537.0,400.6 L539.5,400.3 L542.0,400.0 L544.5,399.6 L546.9,399.4 L549.4,399.1 L551.9,398.8 L554.4,398.5 L556.9,398.3 L559.4,398.1 L561.9,397.8 L564.4,397.6 L566.9,397.5 L569.4,397.3 L571.9,397.1 L574.5,397.0 L577.0,396.9 L579.5,396.8 L582.0,396.7 L584.5,396.6 L587.0,396.6 L589.6,396.5 L592.1,396.5 L594.6,396.6 L597.1,396.6 L599.6,396.6 L602.1,396.7 L604.6,396.8 L607.1,396.9 L609.6,397.1 L612.1,397.3 L614.6,397.5 L617.1,397.7 L619.6,397.9 L622.1,398.2 L624.6,398.5 L627.0,398.9 L629.5,399.2 L631.9,399.6 L634.4,400.0 L636.8,400.5 L639.2,400.9 L641.6,401.4 L644.1,402.0 L646.5,402.6 L648.8,403.2 L651.2,403.8 L653.6,404.5 L655.9,405.2 L658.3,405.9 L660.6,406.7 L662.9,407.5 L665.2,408.3 L667.5,409.2 L669.8,410.1 L672.1,411.1 L674.3,412.1 L676.6,413.1 L678.8,414.2 L681.0,415.3 L683.2,416.4 L685.4,417.6 L687.5,418.9 L689.7,420.1 L691.8,421.4 L693.9,422.8 L696.0,424.1 L698.1,425.5 L700.1,427.0 L702.2,428.4 L704.2,429.9 L706.2,431.4 L708.2,433.0 L710.1,434.6 L712.1,436.2 L714.0,437.8 L715.9,439.5 L717.8,441.2 L719.6,442.9 L721.5,444.6 L723.3,446.4 L725.1,448.2 L726.9,450.0 L728.7,451.8 L730.4,453.7 L732.1,455.5 L733.8,457.4 L735.5,459.3 L737.1,461.3 L738.7,463.2 L740.4,465.2 L741.9,467.1 L743.5,469.1 L745.0,471.1 L746.5,473.1 L748.0,475.1 L749.5,477.2 L751.0,479.2 L752.4,481.3 L753.8,483.4 L755.2,485.4 L756.6,487.5 L758.0,489.6 L759.3,491.7 L760.7,493.8 L762.0,495.9 L763.3,498.0 L764.6,500.2 L765.9,502.3 L767.2,504.4 L768.4,506.5 L769.7,508.6 L770.9,510.8 L772.2,512.9 L773.4,515.0 L774.6,517.1 L775.8,519.3 L777.0,521.4 L778.2,523.5 L779.4,525.6" stroke="#00ff00" stroke-width="1.0" fill="none" stroke-dasharray="6.3 4.7"/>
<path d="M47.8,525.6 L50.3,525.3 L52.8,525.0 L55.2,524.7 L57.7,524.4 L60.2,524.0 L62.7,523.7 L65.1,523.4 L67.6,523.0 L70.1,522.7 L72.6,522.3 L75.0,522.0 L77.5,521.6 L80.0,521.2 L82.4,520.8 L84.9,520.4 L87.3,520.0 L89.8,519.6 L92.3,519.2 L94.7,518.8 L97.2,518.4 L99.6,518.0 L102.1,517.5 L104.5,517.1 L107.0,516.6 L109.4,516.2 L111.9,515.7 L114.3,515.3 L116.8,514.8 L119.2,514.3 L121.7,513.8 L124.1,513.3 L126.5,512.8 L129.0,512.3 L131.4,511.8 L133.8,511.3 L136.3,510.8 L138.7,510.3 L141.1,509.8 L143.6,509.2 L146.0,508.7 L148.4,508.1 L150.9,507.6 L153.3,507.0 L155.7,506.5 L158.1,505.9 L160.6,505.3 L163.0,504.7 L165.4,504.2 L167.8,503.6 L170.2,503.0 L172.7,502.4 L175.1,501.8 L177.5,501.2 L179.9,500.6 L182.3,499.9 L184.7,499.3 L187.1,498.7 L189.5,498.1 L191.9,497.4 L194.4,496.8 L196.8,496.1 L199.2,495.5 L201.6,494.8 L204.0,494.2 L206.4,493.5 L208.8,492.8 L211.2,492.2 L213.6,491.5 L216.0,490.8 L218.4,490.1 L220.7,489.4 L223.1,488.7 L225.5,488.0 L227.9,487.3 L230.3,486.6 L232.7,485.9 L235.1,485.2 L237.5,484.4 L239.9,483.7 L242.2,483.0 L244.6,482.3 L247.0,481.5 L249.4,480.8 L251.8,480.0 L254.2,479.3 L256.5,478.5 L258.9,477.8 L261.3,477.0 L263.7,476.3 L266.0,475.5 L268.4,474.7 L270.8,473.9 L273.2,473.2 L275.5,472.4 L277.9,471.6 L280.3,470.8 L282.6,470.0 L285.0,469.2 L287.4,468.4 L289.7,467.6 L292.1,466.8 L294.5,466.0 L296.8,465.2 L299.2,464.4 L301.6,463.6 L303.9,462.8 L306.3,461.9 L308.6,461.1 L311.0,460.3 L313.4,459.4 L315.7,458.6 L318.1,457.8 L320.4,456.9 L322.8,456.1 L325.1,455.3 L327.5,454.4 L329.8,453.6 L332.2,452.7 L334.5,451.8 L336.9,451.0 L339.2,450.1 L341.6,449.3 L343.9,448.4 L346.3,447.5 L348.6,446.7 L351.0,445.8 L353.3,444.9 L355.6,444.1 L358.0,443.2 L360.3,442.3 L362.7,441.4 L365.0,440.6 L367.4,439.7 L369.7,438.8 L372.0,437.9 L374.4,437.1 L376.7,436.2 L379.1,435.3 L381.4,434.4 L383.8,433.6 L386.1,432.7 L388.4,431.8 L390.8,430.9 L393.1,430.1 L395.5,429.2 L397.8,428.3 L400.2,427.5 L402.5,426.6 L404.9,425.8 L407.2,424.9 L409.6,424.1 L411.9,423.2 L414.2,422.4 L416.6,421.5 L418.9,420.7 L421.3,419.8 L423.7,419.0 L426.0,418.2 L428.4,417.3 L430.7,416.5 L433.1,415.7 L435.4,414.9 L437.8,414.1 L440.1,413.3 L442.5,412.5 L444.9,411.7 L447.2,410.9 L449.6,410.1 L452.0,409.3 L454.3,408.6 L456.7,407.8 L459.1,407.1 L461.4,406.3 L463.8,405.6 L466.2,404.8 L468.6,404.1 L471.0,403.4 L473.3,402.6 L475.7,401.9 L478.1,401.2 L480.5,400.5 L482.9,399.9 L485.3,399.2 L487.7,398.5 L490.1,397.8 L492.5,397.2 L494.9,396.5 L497.3,395.9 L499.7,395.3 L502.1,394.7 L504.5,394.1 L506.9,393.5 L509.3,392.9 L511.8,392.3 L514.2,391.7 L516.6,391.2 L519.0,390.6 L521.5,390.1 L523.9,389.5 L526.3,389.0 L528.8,388.5 L531.2,388.0 L533.7,387.5 L536.1,387.1 L538.6,386.6 L541.0,386.2 L543.5,385.7 L545.9,385.3 L548.4,384.9 L550.9,384.5 L553.3,384.1 L555.8,383.7 L558.3,383.4 L560.8,383.0 L563.3,382.7 L565.7,382.4 L568.2,382.1 L570.7,381.8 L573.2,381.5 L575.7,381.3 L578.2,381.0 L580.7,380.8 L583.2,380.6 L585.8,380.5 L588.3,380.3 L590.8,380.2 L593.3,380.1 L595.8,380.0 L598.3,379.9 L600.8,379.9 L603.3,379.9 L605.8,379.9 L608.3,380.0 L610.8,380.1 L613.3,380.2 L615.8,380.4 L618.3,380.6 L620.7,380.8 L623.2,381.1 L625.7,381.4 L628.2,381.7 L630.6,382.1 L633.1,382.5 L635.5,382.9 L638.0,383.4 L640.4,383.9 L642.8,384.5 L645.2,385.1 L647.6,385.7 L650.0,386.4 L652.4,387.1 L654.7,387.8 L657.1,388.6 L659.4,389.4 L661.8,390.2 L664.1,391.1 L666.4,392.0 L668.6,393.0 L670.9,394.0 L673.1,395.0 L675.4,396.1 L677.6,397.2 L679.7,398.3 L681.9,399.5 L684.0,400.7 L686.2,402.0 L688.3,403.3 L690.4,404.6 L692.4,405.9 L694.5,407.3 L696.5,408.8 L698.5,410.2 L700.4,411.7 L702.4,413.2 L704.3,414.8 L706.3,416.4 L708.1,418.0 L710.0,419.6 L711.9,421.3 L713.7,423.0 L715.5,424.7 L717.3,426.5 L719.1,428.2 L720.8,430.0 L722.5,431.8 L724.3,433.7 L725.9,435.6 L727.6,437.4 L729.3,439.4 L730.9,441.3 L732.5,443.2 L734.1,445.2 L735.6,447.2 L737.2,449.2 L738.7,451.2 L740.2,453.3 L741.7,455.3 L743.1,457.4 L744.6,459.5 L746.0,461.6 L747.4,463.7 L748.8,465.8 L750.1,468.0 L751.5,470.1 L752.8,472.3 L754.1,474.5 L755.4,476.6 L756.6,478.8 L757.9,481.0 L759.1,483.2 L760.3,485.5 L761.5,487.7 L762.6,489.9 L763.8,492.1 L764.9,494.3 L766.1,496.6 L767.2,498.8 L768.3,501.1 L769.3,503.3 L770.4,505.5 L771.5,507.8 L772.5,510.0 L773.5,512.3 L774.5,514.5 L775.5,516.7 L776.5,518.9 L777.5,521.2 L778.4,523.4 L779.4,525.6" stroke="#ff0000" stroke-width="1.0" fill="none" stroke-dasharray="6.3 4.7"/>
<path d="M47.8,525.6 L50.3,525.4 L52.8,525.1 L55.3,524.9 L57.8,524.6 L60.3,524.2 L62.8,523.9 L65.3,523.5 L67.7,523.1 L70.2,522.7 L72.7,522.3 L75.1,521.8 L77.6,521.3 L80.0,520.8 L82.4,520.3 L84.9,519.7 L87.3,519.1 L89.7,518.5 L92.1,517.9 L94.5,517.3 L96.9,516.6 L99.3,515.9 L101.7,515.2 L104.1,514.5 L106.5,513.7 L108.8,513.0 L111.2,512.2 L113.6,511.4 L115.9,510.6 L118.2,509.7 L120.6,508.9 L122.9,508.0 L125.2,507.1 L127.6,506.2 L129.9,505.3 L132.2,504.3 L134.5,503.4 L136.8,502.4 L139.1,501.4 L141.4,500.4 L143.6,499.4 L145.9,498.3 L148.2,497.3 L150.4,496.2 L152.7,495.1 L155.0,494.0 L157.2,492.9 L159.4,491.8 L161.7,490.6 L163.9,489.5 L166.1,488.3 L168.3,487.1 L170.5,486.0 L172.7,484.8 L174.9,483.5 L177.1,482.3 L179.3,481.1 L181.5,479.8 L183.7,478.6 L185.8,477.3 L188.0,476.0 L190.1,474.8 L192.3,473.5 L194.4,472.2 L196.6,470.8 L198.7,469.5 L200.8,468.2 L202.9,466.9 L205.1,465.5 L207.2,464.1 L209.3,462.8 L211.4,461.4 L213.5,460.0 L215.5,458.7 L217.6,457.3 L219.7,455.9 L221.8,454.5 L223.8,453.0 L225.9,451.6 L227.9,450.2 L230.0,448.8 L232.0,447.3 L234.0,445.9 L236.1,444.4 L238.1,443.0 L240.1,441.5 L242.1,440.0 L244.1,438.5 L246.1,437.0 L248.1,435.5 L250.1,434.0 L252.1,432.5 L254.1,431.0 L256.1,429.5 L258.0,428.0 L260.0,426.4 L262.0,424.9 L263.9,423.3 L265.9,421.8 L267.8,420.2 L269.7,418.7 L271.7,417.1 L273.6,415.5 L275.5,413.9 L277.5,412.4 L279.4,410.8 L281.3,409.2 L283.2,407.6 L285.1,405.9 L287.0,404.3 L288.9,402.7 L290.8,401.1 L292.6,399.4 L294.5,397.8 L296.4,396.2 L298.3,394.5 L300.1,392.8 L302.0,391.2 L303.8,389.5 L305.7,387.9 L307.5,386.2 L309.4,384.5 L311.2,382.8 L313.1,381.1 L314.9,379.4 L316.7,377.7 L318.5,376.0 L320.3,374.3 L322.2,372.6 L324.0,370.9 L325.8,369.1 L327.6,367.4 L329.4,365.7 L331.2,363.9 L333.0,362.2 L334.7,360.5 L336.5,358.7 L338.3,357.0 L340.1,355.2 L341.8,353.4 L343.6,351.7 L345.4,349.9 L347.1,348.1 L348.9,346.3 L350.6,344.5 L352.4,342.8 L354.1,341.0 L355.9,339.2 L357.6,337.4 L359.3,335.6 L361.1,333.8 L362.8,332.0 L364.5,330.1 L366.2,328.3 L367.9,326.5 L369.7,324.7 L371.4,322.8 L373.1,321.0 L374.8,319.2 L376.5,317.3 L378.2,315.5 L379.9,313.7 L381.6,311.8 L383.2,310.0 L384.9,308.1 L386.6,306.3 L388.3,304.4 L390.0,302.5 L391.6,300.7 L393.3,298.8 L395.0,296.9 L396.6,295.1 L398.3,293.2 L399.9,291.3 L401.6,289.4 L403.3,287.6 L404.9,285.7 L406.6,283.8 L408.2,281.9 L409.9,280.0 L411.5,278.1 L413.1,276.2 L414.8,274.3 L416.4,272.4 L418.1,270.6 L419.7,268.7 L421.3,266.8 L423.0,264.9 L424.6,263.0 L426.2,261.1 L427.9,259.2 L429.5,257.3 L431.1,255.4 L432.8,253.5 L434.4,251.6 L436.0,249.6 L437.6,247.7 L439.3,245.8 L440.9,243.9 L442.5,242.0 L444.1,240.1 L445.7,238.2 L447.4,236.3 L449.0,234.4 L450.6,232.5 L452.2,230.6 L453.9,228.7 L455.5,226.8 L457.1,224.9 L458.7,223.0 L460.4,221.1 L462.0,219.2 L463.6,217.3 L465.2,215.4 L466.8,213.5 L468.5,211.6 L470.1,209.7 L471.7,207.9 L473.4,206.0 L475.0,204.1 L476.6,202.2 L478.3,200.3 L479.9,198.4 L481.5,196.6 L483.2,194.7 L484.8,192.8 L486.4,190.9 L488.1,189.1 L489.7,187.2 L491.4,185.3 L493.0,183.5 L494.7,181.6 L496.3,179.8 L498.0,177.9 L499.6,176.1 L501.3,174.2 L502.9,172.4 L504.6,170.5 L506.3,168.7 L507.9,166.9 L509.6,165.0 L511.3,163.2 L512.9,161.4 L514.6,159.6 L516.3,157.7 L518.0,155.9 L519.7,154.1 L521.4,152.3 L523.1,150.5 L524.8,148.7 L526.5,146.9 L528.2,145.1 L529.9,143.4 L531.6,141.6 L533.3,139.8 L535.1,138.0 L536.8,136.3 L538.6,134.5 L540.3,132.8 L542.1,131.0 L543.8,129.3 L545.6,127.5 L547.4,125.8 L549.2,124.1 L551.0,122.3 L552.8,120.6 L554.6,118.9 L556.5,117.2 L558.3,115.5 L560.2,113.8 L562.0,112.1 L563.9,110.4 L565.8,108.7 L567.7,107.1 L569.6,105.4 L571.5,103.7 L573.5,102.1 L575.4,100.4 L577.4,98.8 L579.4,97.2 L581.4,95.6 L583.4,94.1 L585.5,92.5 L587.5,91.1 L589.6,89.6 L591.7,88.2 L593.9,86.8 L596.0,85.5 L598.2,84.2 L600.4,83.0 L602.7,81.8 L605.0,80.8 L607.3,79.7 L609.6,78.8 L612.0,77.9 L614.4,77.1 L616.8,76.4 L619.3,75.7 L621.8,75.2 L624.2,74.7 L626.7,74.3 L629.2,74.0 L631.7,73.9 L634.2,73.8 L636.6,73.8 L639.1,74.0 L641.5,74.2 L643.9,74.6 L646.2,75.1 L648.5,75.7 L650.8,76.4 L653.0,77.3 L655.2,78.3 L657.3,79.4 L659.4,80.6 L661.4,81.9 L663.4,83.3 L665.3,84.7 L667.2,86.3 L669.1,87.9 L670.9,89.6 L672.7,91.4 L674.4,93.2 L676.1,95.1 L677.8,97.0 L679.4,99.0 L681.0,100.9 L682.6,102.9 L684.1,104.9 L685.6,107.0 L687.1,109.0 L688.5,111.1 L690.0,113.2 L691.3,115.2 L692.7,117.3 L694.0,119.5 L695.3,121.6 L696.6,123.7 L697.9,125.9 L699.1,128.1 L700.3,130.2 L701.5,132.4 L702.6,134.6 L703.7,136.8 L704.8,139.1 L705.9,141.3 L707.0,143.6 L708.0,145.8 L709.0,148.1 L710.0,150.4 L711.0,152.6 L711.9,154.9 L712.9,157.3 L713.8,159.6 L714.6,161.9 L715.5,164.2 L716.4,166.6 L717.2,168.9 L718.0,171.3 L718.8,173.6 L719.6,176.0 L720.4,178.4 L721.1,180.8 L721.9,183.2 L722.6,185.5 L723.3,187.9 L724.0,190.4 L724.7,192.8 L725.4,195.2 L726.0,197.6 L726.7,200.0 L727.3,202.5 L728.0,204.9 L728.6,207.3 L729.2,209.8 L729.8,212.2 L730.4,214.7 L731.0,217.1 L731.5,219.6 L732.1,222.0 L732.7,224.5 L733.2,226.9 L733.8,229.4 L734.3,231.9 L734.9,234.3 L735.4,236.8 L735.9,239.2 L736.5,241.7 L737.0,244.2 L737.5,246.6 L738.0,249.1 L738.5,251.5 L739.0,254.0 L739.6,256.5 L740.1,258.9 L740.6,261.4 L741.1,263.8 L741.6,266.3 L742.1,268.8 L742.6,271.2 L743.1,273.7 L743.5,276.1 L744.0,278.6 L744.5,281.1 L745.0,283.5 L745.5,286.0 L745.9,288.4 L746.4,290.9 L746.9,293.3 L747.4,295.8 L747.8,298.2 L748.3,300.7 L748.7,303.2 L749.2,305.6 L749.6,308.1 L750.1,310.5 L750.5,313.0 L751.0,315.4 L751.4,317.9 L751.9,320.4 L752.3,322.8 L752.7,325.3 L753.2,327.7 L753.6,330.2 L754.0,332.6 L754.4,335.1 L754.9,337.6 L755.3,340.0 L755.7,342.5 L756.1,344.9 L756.5,347.4 L756.9,349.8 L757.3,352.3 L757.7,354.8 L758.1,357.2 L758.5,359.7 L758.9,362.1 L759.3,364.6 L759.7,367.0 L760.1,369.5 L760.5,372.0 L760.9,374.4 L761.2,376.9 L761.6,379.3 L762.0,381.8 L762.4,384.3 L762.7,386.7 L763.1,389.2 L763.5,391.7 L763.8,394.1 L764.2,396.6 L764.5,399.0 L764.9,401.5 L765.2,404.0 L765.6,406.4 L765.9,408.9 L766.3,411.4 L766.6,413.8 L767.0,416.3 L767.3,418.8 L767.6,421.2 L768.0,423.7 L768.3,426.2 L768.6,428.7 L768.9,431.1 L769.3,433.6 L769.6,436.1 L769.9,438.5 L770.2,441.0 L770.5,443.5 L770.8,446.0 L771.1,448.4 L771.4,450.9 L771.7,453.4 L772.0,455.9 L772.3,458.4 L772.6,460.8 L772.9,463.3 L773.2,465.8 L773.5,468.3 L773.8,470.8 L774.0,473.2 L774.3,475.7 L774.6,478.2 L774.9,480.7 L775.1,483.2 L775.4,485.7 L775.7,488.2 L775.9,490.6 L776.2,493.1 L776.5,495.6 L776.7,498.1 L777.0,500.6 L777.2,503.1 L777.5,505.6 L777.7,508.1 L778.0,510.6 L778.2,513.1 L778.5,515.6 L778.7,518.1 L778.9,520.6 L779.2,523.1 L779.4,525.6" stroke="#0000ff" stroke-width="1.0" fill="none" stroke-dasharray="6.3 4.7"/>
<text x="43.6" y="459.0" text-anchor="end" class="k" textLength="43.4" lengthAdjust="spacingAndGlyphs">0.02</text>
<text x="43.6" y="384.6" text-anchor="end" class="k" textLength="43.4" lengthAdjust="spacingAndGlyphs">0.04</text>
<text x="43.6" y="310.2" text-anchor="end" class="k" textLength="43.4" lengthAdjust="spacingAndGlyphs">0.06</text>
<text x="43.6" y="235.8" text-anchor="end" class="k" textLength="43.4" lengthAdjust="spacingAndGlyphs">0.08</text>
<text x="43.6" y="161.4" text-anchor="end" class="k" textLength="43.4" lengthAdjust="spacingAndGlyphs">0.10</text>
<text x="43.6" y="87.0" text-anchor="end" class="k" textLength="43.4" lengthAdjust="spacingAndGlyphs">0.12</text>
<text x="176.1" y="549.9" text-anchor="middle" class="k" textLength="43.4" lengthAdjust="spacingAndGlyphs">0.05</text>
<text x="304.4" y="549.9" text-anchor="middle" class="k" textLength="43.4" lengthAdjust="spacingAndGlyphs">0.10</text>
<text x="432.7" y="549.9" text-anchor="middle" class="k" textLength="43.4" lengthAdjust="spacingAndGlyphs">0.15</text>
<text x="561.0" y="549.9" text-anchor="middle" class="k" textLength="43.4" lengthAdjust="spacingAndGlyphs">0.20</text>
<text x="689.3" y="549.9" text-anchor="middle" class="k" textLength="43.4" lengthAdjust="spacingAndGlyphs">0.25</text>
<text y="19.3" class="h"><tspan x="223.2" textLength="47.0" lengthAdjust="spacingAndGlyphs">Dust</tspan><tspan x="270.0" y="22.5" style="font-size:28px">+</tspan><tspan x="285.77" y="19.3" textLength="97.0" lengthAdjust="spacingAndGlyphs">Radiation</tspan><tspan x="389.75" y="21.65" style="font-size:27px">&#8722;</tspan><tspan x="405.7" y="19.3" textLength="27.9" lengthAdjust="spacingAndGlyphs">Vs</tspan><tspan x="433.15" y="21.65" style="font-size:27px">&#8722;</tspan><tspan x="455.4" y="19.3" textLength="148.2" lengthAdjust="spacingAndGlyphs">Pure Radiation</tspan></text>
<text x="37.5" y="51" class="t i" id="theta">&#952;</text><text x="49.3" y="40.3" class="s">2</text>
<text x="818" y="516.7" text-anchor="middle" class="t">1</text><path d="M809.3,527.5 H826.8" stroke="#000" stroke-width="1.4"/><text x="818.5" y="551.3" text-anchor="middle" class="t i">V</text>
<text class="l"><tspan class="i" x="502.57" y="89.1">C</tspan><tspan class="ls" x="519.10" y="78.6">2</tspan><tspan x="528.80" y="91.4" textLength="16.2" lengthAdjust="spacingAndGlyphs" style="stroke:#000;stroke-width:0.2px">=</tspan><tspan x="545.65" y="89.1">10</tspan><tspan class="ls" x="569.30" y="78.6">3</tspan></text>
<text class="l"><tspan class="i" x="573.97" y="368">C</tspan><tspan class="ls" x="590.50" y="357.5">2</tspan><tspan x="600.20" y="370.3" textLength="16.2" lengthAdjust="spacingAndGlyphs" style="stroke:#000;stroke-width:0.2px">=</tspan><tspan x="617.05" y="368">10</tspan><tspan class="ls" x="641.40" y="357.5">2</tspan></text>
<text class="l"><tspan class="i" x="559.37" y="449.5">C</tspan><tspan class="ls" x="575.90" y="439.0">2</tspan><tspan x="585.60" y="451.8" textLength="16.2" lengthAdjust="spacingAndGlyphs" style="stroke:#000;stroke-width:0.2px">=</tspan><tspan x="601.40" y="449.5">0</tspan></text>
</svg>
</body></html>
